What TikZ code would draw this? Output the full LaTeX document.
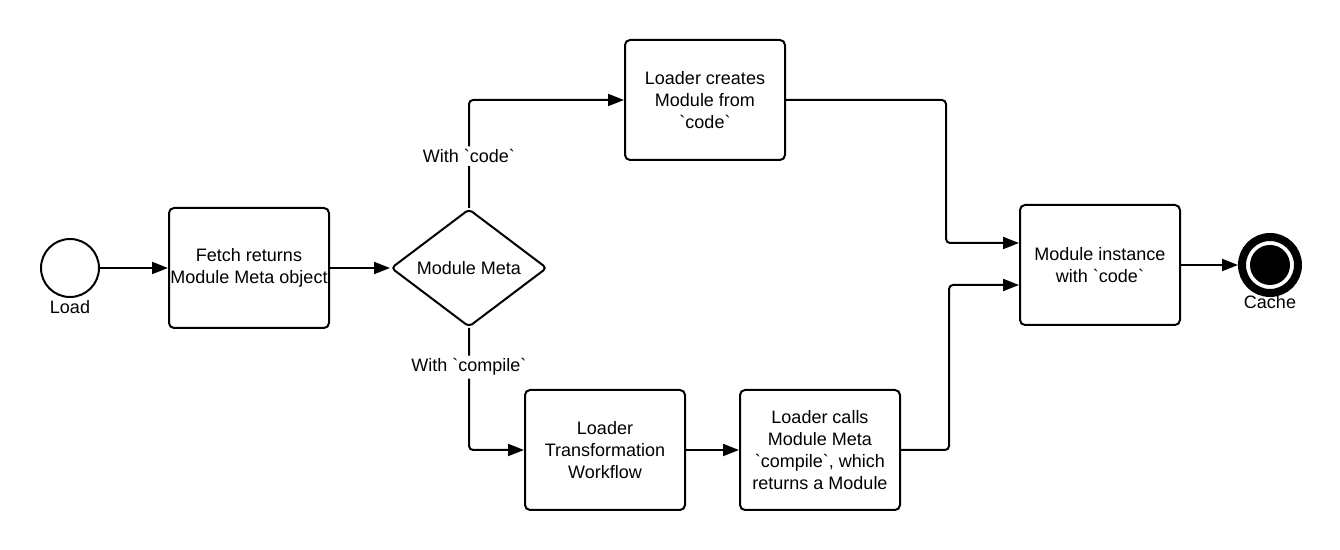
\documentclass[tikz,border=0pt]{standalone}
\usepackage{fontspec}
\setmainfont{Liberation Sans}
\usetikzlibrary{arrows.meta,shapes.geometric}
\newcommand{\bkq}{\textasciigrave}

\begin{document}
\begin{tikzpicture}[x=0.5pt,y=-0.5pt,
    every node/.style={font=\fontsize{9pt}{10.9pt}\selectfont,align=center},
    task/.style={draw,line width=1pt,rounded corners=2.5pt,minimum width=80pt,minimum height=60pt,inner sep=0.4pt},
    gate/.style={draw,line width=1pt,diamond,rounded corners=2pt,aspect=1.31,inner sep=0pt,minimum width=78pt,minimum height=59pt},
    startev/.style={draw,line width=1pt,circle,minimum size=29pt,inner sep=0pt},
    endev/.style={draw,line width=4pt,circle,minimum size=28pt,inner sep=0pt},
    flow/.style={line width=1pt,rounded corners=2pt,-{Triangle[length=8pt,width=6pt]}},
    guard/.style={fill=white,inner sep=1.5pt}]
    \useasboundingbox (0,0) rectangle (1340,550);
    %events and tasks
    \node[startev,label={[inner sep=1pt]below:Load}] (load) at (70,268) {};
    \node[task] (fetch) at (249,268) {Fetch returns\\Module Meta object};
    \node[gate] (meta) at (469,268) {Module Meta};
    \node[task] (cmod) at (705,100) {Loader creates\\Module from\\\bkq code\bkq};
    \node[task] (trans) at (605,450) {Loader\\Transformation\\Workflow};
    \node[task] (calls) at (820,450) {Loader calls\\Module Meta\\\bkq compile\bkq, which\\returns a Module};
    \node[task] (inst) at (1100,265) {Module instance\\with \bkq code\bkq};
    \node[endev,label={[inner sep=0pt,yshift=1pt]below:Cache}] (cache) at (1270,265) {};
    \fill (cache) circle (10pt);
    %sequence flows
    \draw[flow] (load) -- (fetch);
    \draw[flow] (fetch) -- (meta);
    \draw[flow] (meta.north) |- node[guard,pos=0.24] {With \bkq code\bkq} (cmod.west);
    \draw[flow] (meta.south) |- node[guard,pos=0.16] {With \bkq compile\bkq} (trans.west);
    \draw[flow] (trans) -- (calls);
    \draw[flow] (cmod.east) -- ++(160,0) |- ([yshift=11pt]inst.west);
    \draw[flow] (calls.east) -- ++(48,0) |- ([yshift=-10pt]inst.west);
    \draw[flow] (inst) -- (cache);
\end{tikzpicture}
\end{document}
